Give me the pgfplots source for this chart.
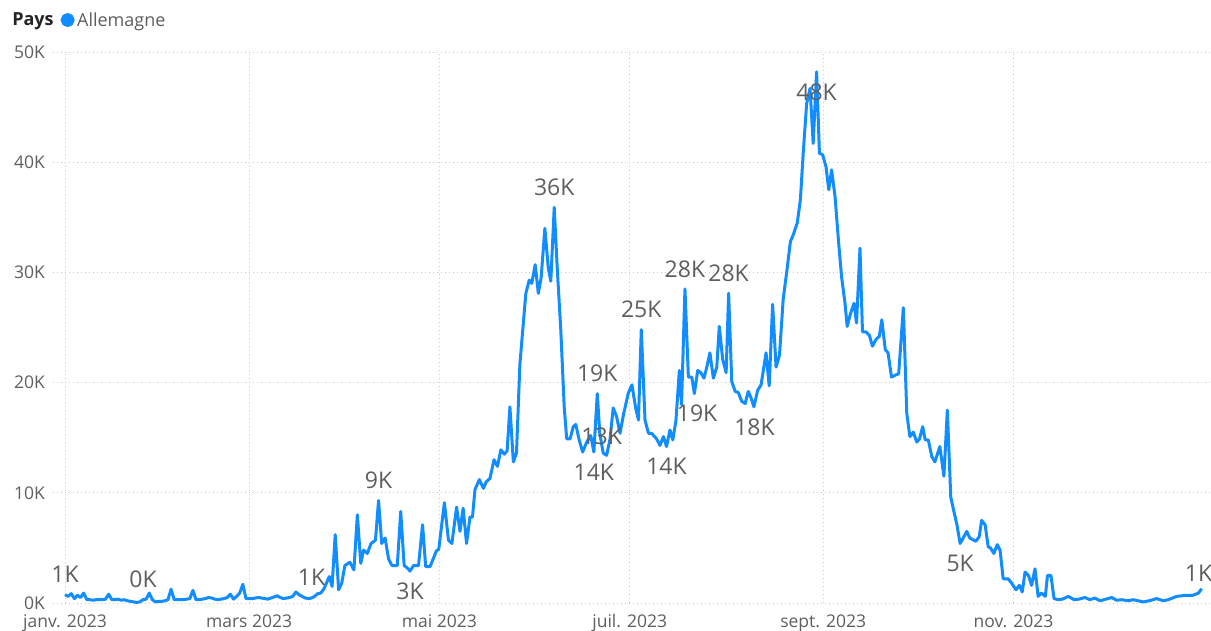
\documentclass[border=0pt]{standalone}
\usepackage{pgfplots}
\pgfplotsset{compat=1.18}
\usepackage{pgfplotstable}
\usepackage{fontspec}
\setmainfont{Open Sans}
\definecolor{lineblue}{HTML}{118DFF}
\definecolor{tickgray}{HTML}{605E5C}
\definecolor{titlegray}{HTML}{252423}
\definecolor{gridgray}{HTML}{C8C8C8}

\pgfplotstableread{
x y
0 0.75
1 0.6
2 0.85
3 0.4
4 0.7
5 0.5
6 0.9
7 0.3
8 0.3
9 0.25
10 0.3
11 0.3
12 0.3
13 0.35
14 0.8
15 0.3
16 0.3
17 0.35
18 0.25
19 0.3
20 0.2
21 0.15
22 0.1
23 0.05
24 0.1
25 0.3
26 0.35
27 0.9
28 0.3
29 0.1
30 0.15
31 0.15
32 0.2
33 0.3
34 1.25
35 0.3
36 0.3
37 0.3
38 0.3
39 0.35
40 0.4
41 1.15
42 0.3
43 0.3
44 0.35
45 0.4
46 0.5
47 0.45
48 0.35
49 0.3
50 0.35
51 0.4
52 0.5
53 0.8
54 0.35
55 0.6
56 0.9
57 1.7
58 0.4
59 0.4
60 0.4
61 0.45
62 0.5
63 0.45
64 0.4
65 0.35
66 0.45
67 0.55
68 0.65
69 0.5
70 0.4
71 0.45
72 0.5
73 0.6
74 1.0
75 0.75
76 0.6
77 0.45
78 0.4
79 0.45
80 0.6
81 0.85
82 0.9
83 1.3
84.7 2.4
85.6 1.5
86.6 6.2
87.7 1.2
88.7 1.8
89.7 3.4
91.3 3.7
92.6 3.0
93.7 8.0
94.8 3.6
95.7 4.8
96.9 4.5
98.1 5.4
99.5 5.7
100.5 9.3
101.5 5.4
102.6 5.9
103.7 4.0
104.8 3.4
106.5 3.4
107.6 8.3
108.7 3.4
109.6 3.2
110.6 2.9
111.7 3.4
113.3 3.4
114.6 7.1
115.6 3.3
117.0 3.3
119.0 4.7
119.8 4.9
121.6 9.1
122.9 5.7
124.0 5.4
125.5 8.7
126.6 6.5
127.6 8.6
128.7 5.4
129.8 7.8
130.6 7.8
131.4 10.3
132.8 11.2
134.1 10.4
135.0 11.0
136.2 11.3
137.5 13.0
138.6 12.4
139.7 13.9
140.8 13.5
141.7 13.8
142.6 17.8
143.7 12.8
144.7 13.6
145.8 21.7
146.9 25.4
147.7 28.1
148.8 29.3
149.6 29.0
150.7 30.7
151.7 28.1
152.6 29.5
153.8 34.0
154.9 30.4
155.7 29.2
156.8 35.9
157.8 30.2
158.9 24.8
160.0 17.8
160.8 14.9
161.9 14.9
162.9 16.0
163.7 16.2
164.8 14.8
165.9 13.7
167.2 14.6
168.5 15.2
169.5 13.7
170.6 19.0
171.4 15.4
172.5 13.6
173.6 13.4
174.7 14.9
175.7 17.7
176.8 16.9
177.9 15.4
179.0 17.1
180.5 19.0
181.7 19.8
182.9 17.7
183.8 16.6
184.7 24.8
185.9 16.6
187.0 15.4
188.0 15.4
189.6 14.9
190.7 14.3
191.8 15.1
192.8 14.2
193.9 15.7
194.8 14.8
195.8 16.5
196.9 21.1
197.6 18.0
198.7 28.5
199.8 20.5
200.9 20.5
201.7 19.0
202.8 21.1
203.8 20.9
204.8 20.4
205.7 21.4
206.7 22.7
207.8 20.4
208.9 21.4
209.7 25.1
210.8 22.1
211.9 20.9
212.7 28.1
213.7 20.1
214.8 19.2
215.8 19.1
216.9 18.3
218.0 18.1
219.0 19.2
219.9 18.6
220.8 17.8
222.0 19.3
223.1 19.8
224.7 22.7
225.7 19.7
226.8 27.1
227.9 21.4
229.0 22.5
230.2 27.6
231.3 30.0
232.5 32.8
233.4 33.4
234.7 34.5
235.7 36.6
236.6 40.8
237.7 45.3
238.8 46.7
239.8 41.7
240.9 48.2
241.8 40.8
242.8 40.7
243.9 39.6
244.8 37.5
245.7 39.3
246.8 36.9
247.9 32.9
248.9 29.6
250.0 27.2
250.7 25.1
251.8 26.3
252.9 27.2
253.7 25.4
254.8 32.2
255.6 24.6
256.7 24.6
257.8 24.3
258.8 23.3
259.9 23.9
261.0 24.2
261.8 25.7
262.9 23.0
263.8 22.7
264.9 20.5
266.3 20.7
267.2 20.8
268.7 26.8
269.8 17.2
270.8 15.1
271.9 15.5
273.0 14.6
273.9 14.9
274.9 16.0
275.7 14.8
276.7 14.8
277.8 13.3
278.8 12.8
280.4 14.2
281.7 11.5
282.8 17.5
283.9 9.6
284.9 8.3
285.8 7.2
286.9 5.4
287.9 5.9
289.0 6.5
290.0 5.9
291.9 5.6
293.0 6.0
293.8 7.5
294.9 7.1
295.9 5.1
296.6 5.0
297.7 4.5
298.8 5.3
299.7 4.8
300.7 2.2
302.3 2.2
303.4 1.8
304.8 1.2
305.9 1.6
306.8 1.0
307.7 2.8
308.8 2.5
309.8 1.6
310.9 3.1
311.9 0.6
312.9 0.9
314.2 0.6
314.9 2.5
316.0 2.5
317.0 0.4
318.3 0.3
319.7 0.35
321.6 0.6
323.4 0.3
325.0 0.35
326.9 0.5
328.5 0.3
330.1 0.45
331.7 0.2
333.0 0.3
335.5 0.5
337.0 0.25
338.7 0.3
340.8 0.2
342.4 0.3
344.0 0.2
345.6 0.1
347.5 0.2
349.9 0.4
352.0 0.2
353.6 0.3
356.3 0.6
359.4 0.7
361.5 0.7
363.3 0.9
364.3 1.3
}\maindata

\pgfplotstableread{
x y lab
0 0.75 1K
25 0.3 0K
79 0.5 1K
100.5 9.3 9K
156.8 35.9 36K
170.6 19.0 19K
172.0 13.3 13K
184.7 24.8 25K
198.7 28.5 28K
212.7 28.1 28K
363.3 0.9 1K
}\labelsabove

\pgfplotstableread{
x y lab
110.6 2.9 3K
169.5 13.7 14K
192.8 14.2 14K
202.6 19.0 19K
221.0 17.8 18K
240.9 48.2 48K
286.9 5.4 5K
}\labelsbelow

\begin{document}
\begin{tikzpicture}
\path[use as bounding box] (-53pt,-28pt) rectangle (1158pt,603pt);
\begin{axis}[
  scale only axis,
  width=1158pt, height=551pt,
  xmin=-3.85, xmax=367.3,
  ymin=0, ymax=50,
  axis line style={draw=none},
  major tick length=0pt,
  xtick={0,59,120,181,243,304},
  xticklabels={janv. 2023,mars 2023,mai 2023,juil. 2023,sept. 2023,nov. 2023},
  ytick={0,10,20,30,40,50},
  yticklabels={0K,10K,20K,30K,40K,50K},
  /pgf/number format/assume math mode=true,
  xmajorgrids, ymajorgrids,
  grid style={gridgray, line width=0.8pt, dash pattern=on 0.8pt off 3.2pt},
  xticklabel style={font=\fontsize{17.5}{20}\selectfont, text=tickgray, anchor=base, inner sep=0pt, yshift=-24.5pt},
  yticklabel style={font=\fontsize{17.5}{20}\selectfont, text=tickgray, anchor=east, inner sep=0pt, xshift=-8pt},
  clip=false,
  legend columns=2,
  legend style={at={(axis description cs:-0.0375,1.058)}, anchor=west, draw=none, fill=none,
    inner sep=0pt, font=\fontsize{18}{21}\selectfont, text=tickgray,
    /tikz/every odd column/.append style={column sep=2.5pt},
    /tikz/every even column/.append style={column sep=7pt},
    nodes={inner sep=0pt}},
]
\addlegendimage{empty legend}
\addlegendentry{\textcolor{titlegray}{\bfseries Pays}}
\addplot[lineblue, line width=3pt, mark=none, line join=round,
  legend image code/.code={\fill[lineblue] (0pt,0pt) circle (5.5pt);}]
  table[x=x,y=y] {\maindata};
\addlegendentry{Allemagne}
\addplot[draw=none, mark=none, forget plot,
  nodes near coords, point meta=explicit symbolic,
  every node near coord/.append style={anchor=center, yshift=20pt, inner sep=0pt,
    font=\fontsize{23}{26}\selectfont, text=tickgray}]
  table[x=x,y=y,meta=lab] {\labelsabove};
\addplot[draw=none, mark=none, forget plot,
  nodes near coords, point meta=explicit symbolic,
  every node near coord/.append style={anchor=center, yshift=-20pt, inner sep=0pt,
    font=\fontsize{23}{26}\selectfont, text=tickgray}]
  table[x=x,y=y,meta=lab] {\labelsbelow};
\end{axis}
\end{tikzpicture}
\end{document}
